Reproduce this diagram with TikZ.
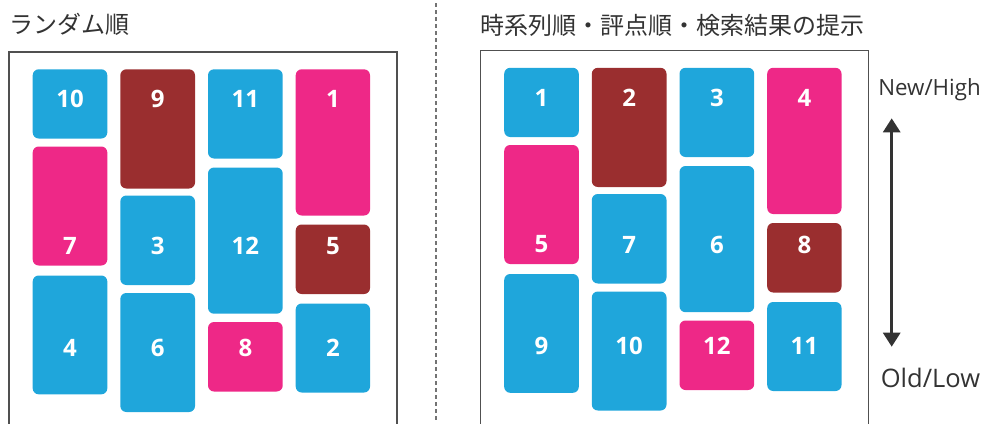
\documentclass[tikz,border=0pt]{standalone}
\usepackage{fontspec}
\setmainfont{Open Sans}
\newfontfamily\jpfont{Noto Sans CJK JP}
\usetikzlibrary{arrows.meta}
\definecolor{cblue}{HTML}{1FA6DB}
\definecolor{cpink}{HTML}{EE2887}
\definecolor{cbrown}{HTML}{9A2E2F}
\definecolor{frame}{HTML}{505050}
\definecolor{ink}{HTML}{333333}
\tikzset{
  card/.style={rectangle, rounded corners=6pt, inner sep=0pt, draw=none},
  num/.style={text=white, font=\fontsize{24}{24}\selectfont\bfseries, inner sep=0pt, anchor=center},
  title/.style={text=ink, font=\jpfont\fontsize{24}{24}\selectfont, inner sep=0pt, anchor=west},
  axislabel/.style={text=ink, inner sep=0pt, anchor=center},
  framebox/.style={draw=frame, line width=1.3pt},
  sep/.style={draw=frame!80, line width=1.3pt, dash pattern=on 4pt off 3pt}
}
% \cardbox{name}{x1}{y1}{x2}{y2}{colour}{label}{labely}
\newcommand{\cardbox}[8]{%
  \node[card, fill=#6, minimum width={(#4-#2)*1pt}, minimum height={(#5-#3)*1pt}] (#1) at ({(#2+#4)/2},{(#3+#5)/2}) {};
  \node[num] (#1l) at ({(#2+#4)/2},#8) {#7};
}
\begin{document}
\begin{tikzpicture}[x=1pt,y=-1pt]
\useasboundingbox (0,0) rectangle (984,423);
% titles
\node[title] (t1) at (9,24) {ランダム順};
\node[title] (t2) at (480,25) {時系列順・評点順・検索結果の提示};
% separator
\coordinate (s1) at (436,3);
\coordinate (s2) at (436,421);
\draw[sep] (s1) -- (s2);
% frames
\coordinate (f1a) at (9,424);
\coordinate (f1b) at (9,52);
\coordinate (f1c) at (397,52);
\coordinate (f1d) at (397,424);
\draw[framebox] (f1a) -- (f1b) -- (f1c) -- (f1d);
\begin{scope}[shift={(471.5,-1.5)}]
\coordinate (f2a) at (9,426);
\coordinate (f2b) at (9,52);
\coordinate (f2c) at (397,52);
\coordinate (f2d) at (397,426);
\draw[framebox] (f2a) -- (f2b) -- (f2c) -- (f2d);
\end{scope}
% left panel cards
\cardbox{a10}{32.7}{69.3}{107.3}{138.5}{cblue}{10}{99.3}
\cardbox{a9}{120.3}{69.3}{195}{188.5}{cbrown}{9}{99.3}
\cardbox{a11}{208}{69.3}{282.7}{158.5}{cblue}{11}{99.3}
\cardbox{a1}{295.7}{69.3}{370}{215.5}{cpink}{1}{99.3}
\cardbox{a7}{32.7}{146.5}{107.3}{265.5}{cpink}{7}{246}
\cardbox{a3}{120.3}{195.5}{195}{285}{cblue}{3}{246}
\cardbox{a12}{208}{167.5}{282.7}{313.7}{cblue}{12}{246}
\cardbox{a5}{295.7}{224.5}{370}{294}{cbrown}{5}{246}
\cardbox{a4}{32.7}{275.5}{107.3}{394.3}{cblue}{4}{347.6}
\cardbox{a6}{120.3}{293}{195}{412}{cblue}{6}{347.6}
\cardbox{a8}{208}{322}{282.7}{391.5}{cpink}{8}{347.6}
\cardbox{a2}{295.7}{303.5}{370}{392.5}{cblue}{2}{347.6}
% right panel cards
\begin{scope}[shift={(471.5,-1.5)}]
\cardbox{b1}{32.7}{69.3}{107.3}{138.5}{cblue}{1}{99.3}
\cardbox{b2}{120.3}{69.3}{195}{188.5}{cbrown}{2}{99.3}
\cardbox{b3}{208}{69.3}{282.7}{158.5}{cblue}{3}{99.3}
\cardbox{b4}{295.7}{69.3}{370}{215.5}{cpink}{4}{99.3}
\cardbox{b5}{32.7}{146.5}{107.3}{265.5}{cpink}{5}{246}
\cardbox{b7}{120.3}{195.5}{195}{285}{cblue}{7}{246}
\cardbox{b6}{208}{167.5}{282.7}{313.7}{cblue}{6}{246}
\cardbox{b8}{295.7}{224.5}{370}{294}{cbrown}{8}{246}
\cardbox{b9}{32.7}{275.5}{107.3}{394.3}{cblue}{9}{347.6}
\cardbox{b10}{120.3}{293}{195}{412}{cblue}{10}{347.6}
\cardbox{b12}{208}{322}{282.7}{391.5}{cpink}{12}{347.6}
\cardbox{b11}{295.7}{303.5}{370}{392.5}{cblue}{11}{347.6}
\end{scope}
% axis
\node[axislabel, font=\fontsize{22.3}{22.3}\selectfont] (hi) at (929.5,90) {New/High};
\node[axislabel, font=\fontsize{25.5}{25.5}\selectfont] (lo) at (930.5,378) {Old/Low};
\coordinate (atop) at (891.7,118.3);
\coordinate (abot) at (891.7,346.7);
\draw[draw=ink, line width=3pt, {Triangle[width=17pt,length=14pt]}-{Triangle[width=17pt,length=14pt]}] (atop) -- (abot);
\end{tikzpicture}
\end{document}
